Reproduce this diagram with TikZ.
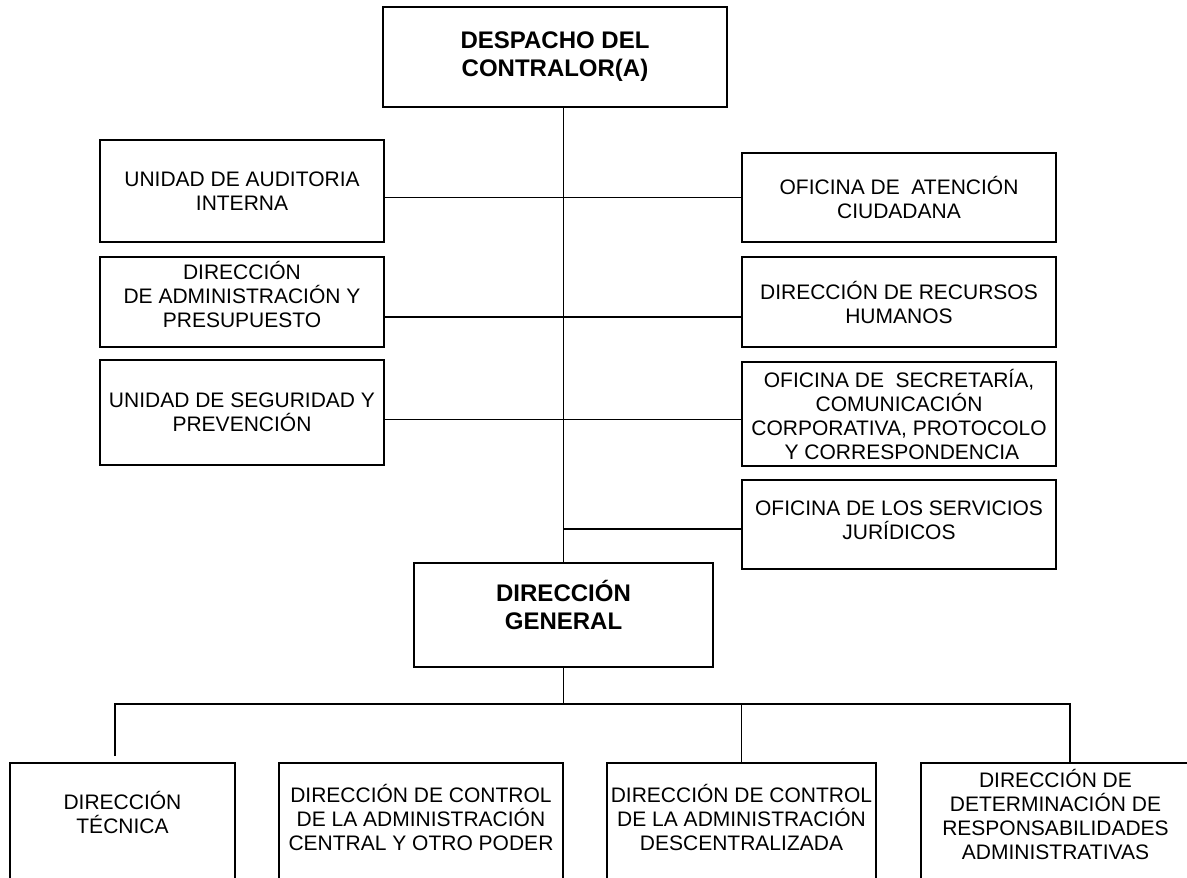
\documentclass[tikz,border=0pt]{standalone}
\usepackage{fontspec}
\setmainfont{Liberation Sans}
\newcommand{\dropby}[1]{\rule[-#1pt]{0pt}{0pt}}
\begin{document}
\begin{tikzpicture}[x=1pt,y=-1pt,
  bx/.style={draw=black, line width=1.8pt, align=center, inner sep=0pt, font=\fontsize{21}{24}\selectfont},
  bxb/.style={bx, font=\fontsize{24}{28}\bfseries\selectfont},
  ln/.style={draw=black, line width=1.8pt}]
\useasboundingbox (0,0) rectangle (1187,878);
\clip (0,0) rectangle (1187,878);
% top
\node[bxb, minimum width=344pt, minimum height=100pt] (top) at (555,57) {DESPACHO DEL\\CONTRALOR(A)\dropby{4}};
% left
\node[bx, minimum width=284pt, minimum height=102pt] (l1) at (242,191) {UNIDAD DE AUDITORIA\\INTERNA};
\node[bx, minimum width=284pt, minimum height=90pt] (l2) at (242,302) {DIRECCIÓN\\DE ADMINISTRACIÓN Y\\PRESUPUESTO\dropby{16}};
\node[bx, minimum width=284pt, minimum height=105pt] (l3) at (242,412.5) {UNIDAD DE SEGURIDAD Y\\PREVENCIÓN};
% right
\node[bx, minimum width=314pt, minimum height=89pt] (r1) at (899,197.5) {OFICINA DE~~ATENCIÓN\\CIUDADANA};
\node[bx, minimum width=314pt, minimum height=90pt] (r2) at (899,302) {DIRECCIÓN DE RECURSOS\\HUMANOS};
\node[bx, minimum width=314pt, minimum height=104pt] (r3) at (899,414) {OFICINA DE~~SECRETARÍA,\\COMUNICACIÓN\\CORPORATIVA, PROTOCOLO\\~Y CORRESPONDENCIA};
\node[bx, minimum width=314pt, minimum height=89pt] (r4) at (899,524.5) {OFICINA DE LOS SERVICIOS\\JURÍDICOS\dropby{9}};
% general
\node[bxb, minimum width=299pt, minimum height=104pt] (dg) at (563.5,615) {DIRECCIÓN\\GENERAL\dropby{20}};
% bottom
\node[bx, minimum width=225pt, minimum height=119pt] (b1) at (122.5,822.5) {DIRECCIÓN\\TÉCNICA\dropby{21}};
\node[bx, minimum width=284pt, minimum height=119pt] (b2) at (421,822.5) {DIRECCIÓN DE CONTROL\\DE LA ADMINISTRACIÓN\\CENTRAL Y OTRO PODER\dropby{10}};
\node[bx, minimum width=269pt, minimum height=119pt] (b3) at (741.5,822.5) {DIRECCIÓN DE CONTROL\\DE LA ADMINISTRACIÓN\\DESCENTRALIZADA\dropby{10}};
\node[bx, minimum width=269pt, minimum height=119pt] (b4) at (1055.5,822.5) {DIRECCIÓN DE\\DETERMINACIÓN DE\\RESPONSABILIDADES\\ADMINISTRATIVAS\dropby{16}};
% connectors
\draw[ln] (dg.north |- top.south) -- (dg.north);
\draw[ln] (l1.east |- r1.west) -- (r1.west);
\draw[ln] ([yshift=-15pt]l2.east) -- ([yshift=-15pt]r2.west);
\draw[ln] ([yshift=-7pt]l3.east) -- ([yshift=-7pt]l3.east -| r3.west);
\draw[ln] ([yshift=-4.5pt]r4.west) -- ([yshift=-4.5pt]r4.west -| dg.north);
\coordinate (busL) at (115,704);
\coordinate (dropL) at (115,756);
\coordinate (b4top) at ([xshift=14.5pt]b4.north);
\draw[ln] (dropL) -- (busL) -- (busL -| b4top) -- (b4top);
\draw[ln] (dg.south) -- (dg.south |- busL);
\draw[ln] (busL -| b3.north) -- (b3.north);
\end{tikzpicture}
\end{document}
